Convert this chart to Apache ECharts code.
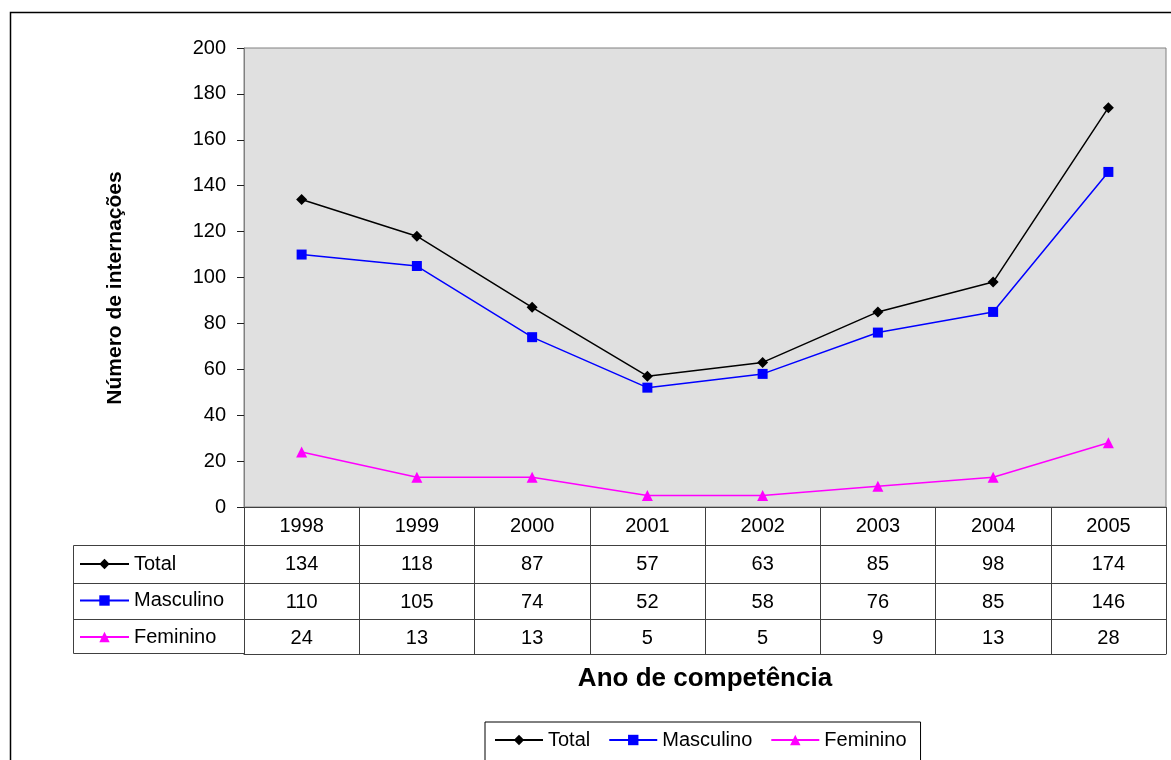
<!DOCTYPE html>
<html>
<head>
<meta charset="utf-8">
<script src="https://cdn.jsdelivr.net/npm/echarts@6/dist/echarts.min.js"></script>
<style>
  html, body { margin: 0; padding: 0; background: #fff; }
  #chart { width: 1171px; height: 760px; }
</style>
</head>
<body>
<div id="chart"></div>
<script>
// data
var years = ['1998', '1999', '2000', '2001', '2002', '2003', '2004', '2005'];
var total = [134, 118, 87, 57, 63, 85, 98, 174];
var masculino = [110, 105, 74, 52, 58, 76, 85, 146];
var feminino = [24, 13, 13, 5, 5, 9, 13, 28];
var yTicks = { min: 0, max: 200, interval: 20 };

var FONT = 'Liberation Sans, Arial, sans-serif';
var TABLE = '#404040';
var FS = 20;

var myChart = echarts.init(document.getElementById('chart'));

// one extra x axis per table row, labels taken from the row's values
function rowAxis(offset, values) {
    return {
        type: 'category',
        data: years,
        position: 'bottom',
        offset: offset,
        axisLine: { show: true, lineStyle: { color: TABLE, width: 1 } },
        axisTick: { show: false },
        axisLabel: {
            show: !!values,
            margin: 9,
            fontSize: FS,
            color: '#000',
            fontFamily: FONT,
            formatter: function (v, i) { return values ? String(values[i]) : ''; }
        }
    };
}

myChart.setOption({
    animation: false,
    textStyle: { fontFamily: FONT },
    grid: {
        left: 244, right: 5, top: 48, bottom: 253,
        show: true,
        backgroundColor: '#E0E0E0',
        borderColor: '#808080',
        borderWidth: 1
    },
    xAxis: [
        {
            type: 'category',
            data: years,
            boundaryGap: true,
            axisLine: { lineStyle: { color: TABLE, width: 1 } },
            axisTick: { show: true, length: 147, lineStyle: { color: TABLE, width: 1 } },
            axisLabel: { margin: 9, fontSize: FS, color: '#000', fontFamily: FONT }
        },
        rowAxis(38, total),
        rowAxis(76, masculino),
        rowAxis(112, feminino),
        rowAxis(147, null)
    ],
    yAxis: {
        type: 'value',
        min: yTicks.min,
        max: yTicks.max,
        interval: yTicks.interval,
        axisLine: { show: true, lineStyle: { color: '#808080' } },
        axisTick: { show: true, length: 7, lineStyle: { color: '#202020' } },
        splitLine: { show: false },
        axisLabel: { margin: 18, fontSize: FS, color: '#000', fontFamily: FONT }
    },
    legend: [
        {
            data: ['Total', 'Masculino', 'Feminino'],
            left: 485,
            top: 722,
            orient: 'horizontal',
            itemWidth: 48,
            itemHeight: 13,
            itemGap: 18,
            padding: [8, 14, 20, 9],
            borderColor: '#000',
            borderWidth: 1,
            textStyle: { fontSize: FS, color: '#000', fontFamily: FONT }
        },
        {
            data: ['Total', 'Masculino', 'Feminino'],
            left: 79,
            top: 554,
            orient: 'vertical',
            itemWidth: 49,
            itemHeight: 13,
            itemGap: 16.5,
            padding: 0,
            selectedMode: false,
            textStyle: { fontSize: FS, color: '#000', fontFamily: FONT }
        }
    ],
    series: [
        {
            name: 'Total',
            type: 'line',
            data: total,
            symbol: 'diamond',
            symbolSize: 11,
            lineStyle: { color: '#000000', width: 1.5 },
            itemStyle: { color: '#000000' }
        },
        {
            name: 'Masculino',
            type: 'line',
            data: masculino,
            symbol: 'rect',
            symbolSize: 10,
            lineStyle: { color: '#0000FF', width: 1.5 },
            itemStyle: { color: '#0000FF' }
        },
        {
            name: 'Feminino',
            type: 'line',
            data: feminino,
            symbol: 'triangle',
            symbolSize: 11,
            lineStyle: { color: '#FF00FF', width: 1.5 },
            itemStyle: { color: '#FF00FF' }
        }
    ],
    graphic: [
        // outer chart frame
        {
            type: 'rect',
            shape: { x: 10.5, y: 12.5, width: 1200, height: 800 },
            style: { fill: 'none', stroke: '#000', lineWidth: 1.5 },
            silent: true
        },
        // axis titles
        {
            type: 'text',
            x: 115, y: 288,
            rotation: Math.PI / 2,
            style: {
                text: 'Número de internações',
                font: 'bold 21px ' + FONT,
                fill: '#000',
                align: 'center',
                verticalAlign: 'middle'
            },
            silent: true
        },
        {
            type: 'text',
            x: 705, y: 679,
            style: {
                text: 'Ano de competência',
                font: 'bold 26px ' + FONT,
                fill: '#000',
                align: 'center',
                verticalAlign: 'middle'
            },
            silent: true
        },
        // left column of the data table
        {
            type: 'rect',
            shape: { x: 73.5, y: 545.5, width: 171, height: 108 },
            style: { fill: 'none', stroke: TABLE, lineWidth: 1 },
            silent: true
        },
        {
            type: 'line',
            shape: { x1: 73, y1: 583.5, x2: 244, y2: 583.5 },
            style: { stroke: TABLE, lineWidth: 1 },
            silent: true
        },
        {
            type: 'line',
            shape: { x1: 73, y1: 619.5, x2: 244, y2: 619.5 },
            style: { stroke: TABLE, lineWidth: 1 },
            silent: true
        }
    ]
});
</script>
</body>
</html>
